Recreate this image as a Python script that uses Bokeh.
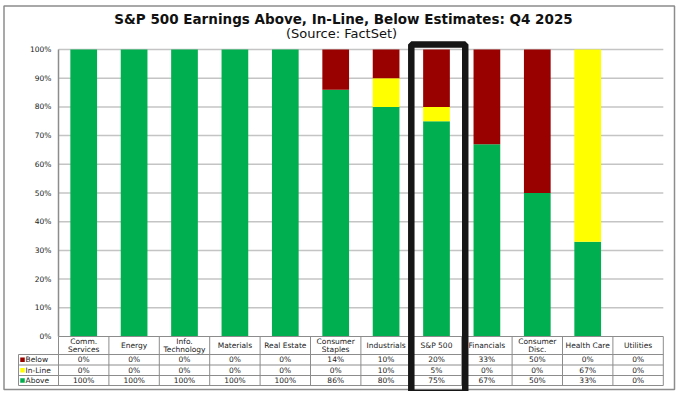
from bokeh.plotting import figure
from bokeh.models import Range1d, LinearAxis, FixedTicker, NumeralTickFormatter, ColumnDataSource
from bokeh.core.properties import value
from bokeh.embed import file_html
from bokeh.resources import INLINE

# ---------------- data ----------------
categories = ["Comm.\nServices", "Energy", "Info.\nTechnology", "Materials", "Real Estate",
              "Consumer\nStaples", "Industrials", "S&P 500", "Financials", "Consumer\nDisc.",
              "Health Care", "Utilities"]
below = [0, 0, 0, 0, 0, 14, 10, 20, 33, 50, 0, 0]
inline = [0, 0, 0, 0, 0, 0, 10, 5, 0, 0, 67, 0]
above = [100, 100, 100, 100, 100, 86, 80, 75, 67, 50, 33, 0]
series_names = ["Below", "In-Line", "Above"]
series_colors = ["#990000", "#FFFF00", "#00B050"]
y_ticks = [0, 10, 20, 30, 40, 50, 60, 70, 80, 90, 100]
title_text = "S&P 500 Earnings Above, In-Line, Below Estimates: Q4 2025"
subtitle_text = "(Source: FactSet)"
highlight = "S&P 500"

# ---------------- layout (pixels) ----------------
W, H = 681, 391
PX, PY = 50.4, 287.0      # px per category / px per 100%
X0, Y0 = 58.0, 336.0      # figure px of (first category edge, 0%)

def dx(px):
    return (px - X0) / PX

def dy(py):
    return (Y0 - py) / PY

FONT = "DejaVu Sans"
SMALL = "7.5px"
n = len(categories)

p = figure(width=W, height=H, output_backend="svg", toolbar_location=None,
           x_range=Range1d(dx(0), dx(W)), y_range=Range1d(dy(H), dy(0)),
           x_axis_type=None, y_axis_type=None,
           min_border=0, min_border_left=0, min_border_right=0,
           min_border_top=0, min_border_bottom=0)
p.outline_line_color = None
p.background_fill_color = "white"
p.border_fill_color = "white"

# outer chart border
p.quad(left=[dx(3.5)], right=[dx(674)], top=[dy(5.5)], bottom=[dy(389)],
       fill_color=None, line_color="#8C8C8C", line_width=1.5)

# gridlines
ticks = [t / 100 for t in y_ticks]
p.segment(x0=[0] * (len(ticks) - 1), x1=[n] * (len(ticks) - 1), y0=ticks[1:], y1=ticks[1:],
          line_color="#C4C4C4", line_width=1.5)

# stacked bars
src = ColumnDataSource(dict(
    x=[i + 0.5 for i in range(n)],
    Above=[v / 100 for v in above],
    InLine=[v / 100 for v in inline],
    Below=[v / 100 for v in below],
))
p.vbar_stack(["Above", "InLine", "Below"], x="x", width=0.53, source=src,
             fill_color=[series_colors[2], series_colors[1], series_colors[0]],
             line_color=None, line_width=0)

# y axis
yaxis = LinearAxis(fixed_location=0, bounds=(0, 1),
                   ticker=FixedTicker(ticks=ticks),
                   formatter=NumeralTickFormatter(format="0%"))
yaxis.axis_line_color = "#8C8C8C"
yaxis.axis_line_width = 1.5
yaxis.major_tick_line_color = None
yaxis.minor_tick_line_color = None
yaxis.major_tick_out = 0
yaxis.major_tick_in = 0
yaxis.major_label_standoff = 7
yaxis.major_label_text_font = FONT
yaxis.major_label_text_font_size = SMALL
yaxis.major_label_text_color = "#222222"
p.add_layout(yaxis, "left")

# data table below the plot
row_edges = [0, dy(354), dy(364.5), dy(375), dy(385)]
legend_left = dx(18)
tl = "#8C8C8C"
# horizontal lines
p.segment(x0=[0] + [legend_left] * 4, x1=[n] * 5, y0=row_edges, y1=row_edges,
          line_color=tl, line_width=1)
# vertical lines (category columns)
p.segment(x0=list(range(n + 1)), x1=list(range(n + 1)),
          y0=[row_edges[0]] * (n + 1), y1=[row_edges[-1]] * (n + 1),
          line_color=tl, line_width=1)
# legend column left edge
p.segment(x0=[legend_left], x1=[legend_left], y0=[row_edges[1]], y1=[row_edges[-1]],
          line_color=tl, line_width=1)

# header labels
p.text(x=[i + 0.5 for i in range(n)], y=[(row_edges[0] + row_edges[1]) / 2] * n,
       text=categories, text_align="center", text_baseline="middle",
       text_font=value(FONT), text_font_size=SMALL, text_color="#222222",
       text_line_height=0.95)

# rows
row_values = [below, inline, above]
cx, cy, ct = [], [], []
for r, vals in enumerate(row_values):
    yc = (row_edges[r + 1] + row_edges[r + 2]) / 2
    for i, v in enumerate(vals):
        cx.append(i + 0.5)
        cy.append(yc)
        ct.append(f"{v}%")
p.text(x=cx, y=cy, text=ct, text_align="center", text_baseline="middle",
       text_font=value(FONT), text_font_size=SMALL, text_color="#222222")

row_centers = [(row_edges[r + 1] + row_edges[r + 2]) / 2 for r in range(3)]
p.scatter(x=[dx(22)] * 3, y=row_centers, marker="square", size=4.5,
          fill_color=series_colors, line_color=None)
p.text(x=[dx(25)] * 3, y=row_centers, text=series_names, text_align="left",
       text_baseline="middle", text_font=value(FONT), text_font_size=SMALL,
       text_color="#222222")

# highlight box around S&P 500
hi = categories.index(highlight)
p.quad(left=[hi], right=[hi + 1.07], top=[dy(44)], bottom=[dy(392.5)],
       fill_color=None, line_color="#161616", line_width=6.5)

# titles
p.text(x=[dx(343)], y=[dy(18)], text=[title_text], text_align="center",
       text_baseline="middle", text_font=value(FONT), text_font_style="bold",
       text_font_size="13.5px", text_color="#111111")
p.text(x=[dx(341)], y=[dy(33)], text=[subtitle_text], text_align="center",
       text_baseline="middle", text_font=value(FONT), text_font_size="13px",
       text_color="#111111")

open("out.html", "w").write(file_html(p, INLINE))
